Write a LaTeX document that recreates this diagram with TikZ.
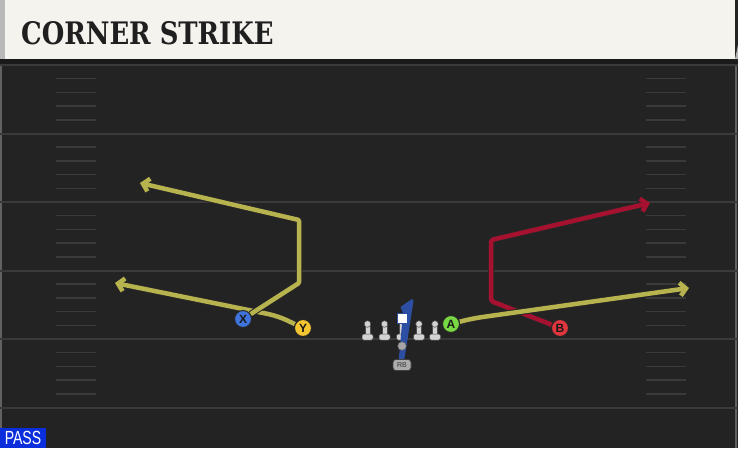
\documentclass[tikz,border=0pt]{standalone}
\usepackage{graphicx}
\usepackage{fontspec}
\setmainfont{DejaVu Serif}
\setsansfont{Liberation Sans}
\usetikzlibrary{arrows.meta}

\definecolor{fieldgray}{HTML}{232323}
\definecolor{bandgray}{HTML}{1A1A1A}
\definecolor{markgray}{HTML}{3A3A3A}
\definecolor{headbg}{HTML}{F5F3EE}
\definecolor{routeyellow}{HTML}{B7B34E}
\definecolor{routered}{HTML}{A5112F}
\definecolor{routeblue}{HTML}{2C4FA3}
\definecolor{passblue}{HTML}{0A2EDC}
\definecolor{xblue}{HTML}{3E74DB}
\definecolor{yyellow}{HTML}{F3C531}
\definecolor{agreen}{HTML}{78D843}
\definecolor{bred}{HTML}{E2363E}
\definecolor{mangray}{HTML}{D2D2D2}

\pgfdeclarelayer{field}
\pgfdeclarelayer{routes}
\pgfsetlayers{field,routes,main}

\tikzset{
  player/.style={circle,draw=black!85,line width=1pt,fill=#1,minimum size=17pt,
    inner sep=0pt,font=\sffamily\bfseries\fontsize{12}{12}\selectfont,text=black!90},
  route/.style={draw=#1,line width=4.5pt,line join=round,
    preaction={draw=black!85,line width=6.5pt},
    -{Straight Barb[length=6pt,width=13pt]}},
  lineman/.pic={
    \filldraw[mangray,draw=black!70,line width=0.5pt] (-2.5,1) rectangle (2.5,10.5);
    \filldraw[mangray,draw=black!70,line width=0.5pt,rounded corners=1.5pt] (-5.5,10) rectangle (5.5,16);
    \filldraw[mangray,draw=black!70,line width=0.5pt] (0,0) circle (3.3);
  }
}

\begin{document}
\begin{tikzpicture}[x=1pt,y=-1pt]
  \useasboundingbox (0,0) rectangle (738,448);
  \begin{pgfonlayer}{field}
    % field
    \fill[fieldgray] (0,0) rectangle (738,448);
    \fill[bandgray] (0,59) rectangle (738,65);
    \draw[markgray!80,line width=2pt] (1,65) -- (1,448);
    \draw[markgray!80,line width=2pt] (736,65) -- (736,448);
    \foreach \k in {0,...,5}
      \draw[markgray,line width=2pt] (0,65+68.5*\k) -- (738,65+68.5*\k);
    \foreach \k in {1,...,24}{
      \pgfmathtruncatemacro{\r}{mod(\k,5)}
      \ifnum\r>0
        \draw[markgray,line width=1.5pt] (56,65+13.7*\k) -- (96,65+13.7*\k);
        \draw[markgray,line width=1.5pt] (646,65+13.7*\k) -- (686,65+13.7*\k);
      \fi
    }
    % header
    \fill[headbg] (0,0) rectangle (735,59);
    \fill[gray!55] (0,0) rectangle (5,59);
    \fill[gray!60] (735,59) -- (738,45) -- (738,59) -- cycle;
  \end{pgfonlayer}

  \node[anchor=west,inner sep=0pt,text=black!88,
    font=\fontsize{31}{31}\selectfont\bfseries] (title) at (21,33)
    {\scalebox{0.835}[1]{CORNER STRIKE}};

  % play type
  \node[fill=passblue,text=white,minimum width=46pt,minimum height=20pt,inner sep=0pt,
    font=\sffamily\fontsize{19}{19}\selectfont] (playtype) at (23,438)
    {\scalebox{0.74}[1]{PASS}};

  % line
  \pic (lt) at (367.5,324) {lineman};
  \pic (lg) at (384.5,324) {lineman};
  \pic (rg) at (419,324) {lineman};
  \pic (rt) at (435,324) {lineman};
  \filldraw[mangray,draw=black!70,line width=0.5pt] (399.5,322) rectangle (404.5,334.5);
  \filldraw[mangray,draw=black!70,line width=0.5pt,rounded corners=1.5pt] (396.5,334) rectangle (407.5,340);

  % quarterback drop
  \fill[routeblue] (412,299) -- (406,303) -- (400.5,307) -- (403,313) -- (398,368)
    -- (403,368) -- (413.5,301) -- cycle;
  \node[draw=routeblue,fill=white,line width=1pt,minimum size=10pt,inner sep=0pt] (center) at (402,318) {};
  \node[circle,fill=gray!70,draw=black!60,line width=0.5pt,minimum size=8.5pt,inner sep=0pt] (qb) at (402,346) {};
  \node[fill=gray!65,draw=black!75,line width=0.6pt,rounded corners=3pt,minimum width=18pt,
    minimum height=11pt,inner sep=0pt,font=\sffamily\fontsize{7}{7}\selectfont,text=black!80] (rb) at (402,365) {RB};

  % receivers
  \node[player=xblue] (X) at (243,319) {X};
  \node[player=yyellow] (Y) at (303,328) {Y};
  \node[player=agreen] (A) at (451,324) {A};
  \node[player=bred] (B) at (560,328) {B};

  \coordinate (xa) at (299,283);
  \coordinate (xb) at (299,220);
  \coordinate (xend) at (140,183);
  \coordinate (ya) at (278,316);
  \coordinate (yend) at (115,283);
  \coordinate (aa) at (472,318.5);
  \coordinate (aend) at (689,288);
  \coordinate (ba) at (491,301);
  \coordinate (bb) at (491,240);
  \coordinate (bend) at (650,203);

  % routes
  \begin{pgfonlayer}{routes}
    \draw[route=routered,rounded corners=2pt] (B) -- (ba) -- (bb) -- (bend);
    \draw[route=routeyellow,rounded corners=10pt] (A) -- (aa) -- (aend);
    \draw[route=routeyellow,rounded corners=10pt] (Y) -- (ya) -- (yend);
    \draw[route=routeyellow,rounded corners=1pt] (X) -- (xa) -- (xb) -- (xend);
  \end{pgfonlayer}
\end{tikzpicture}
\end{document}
